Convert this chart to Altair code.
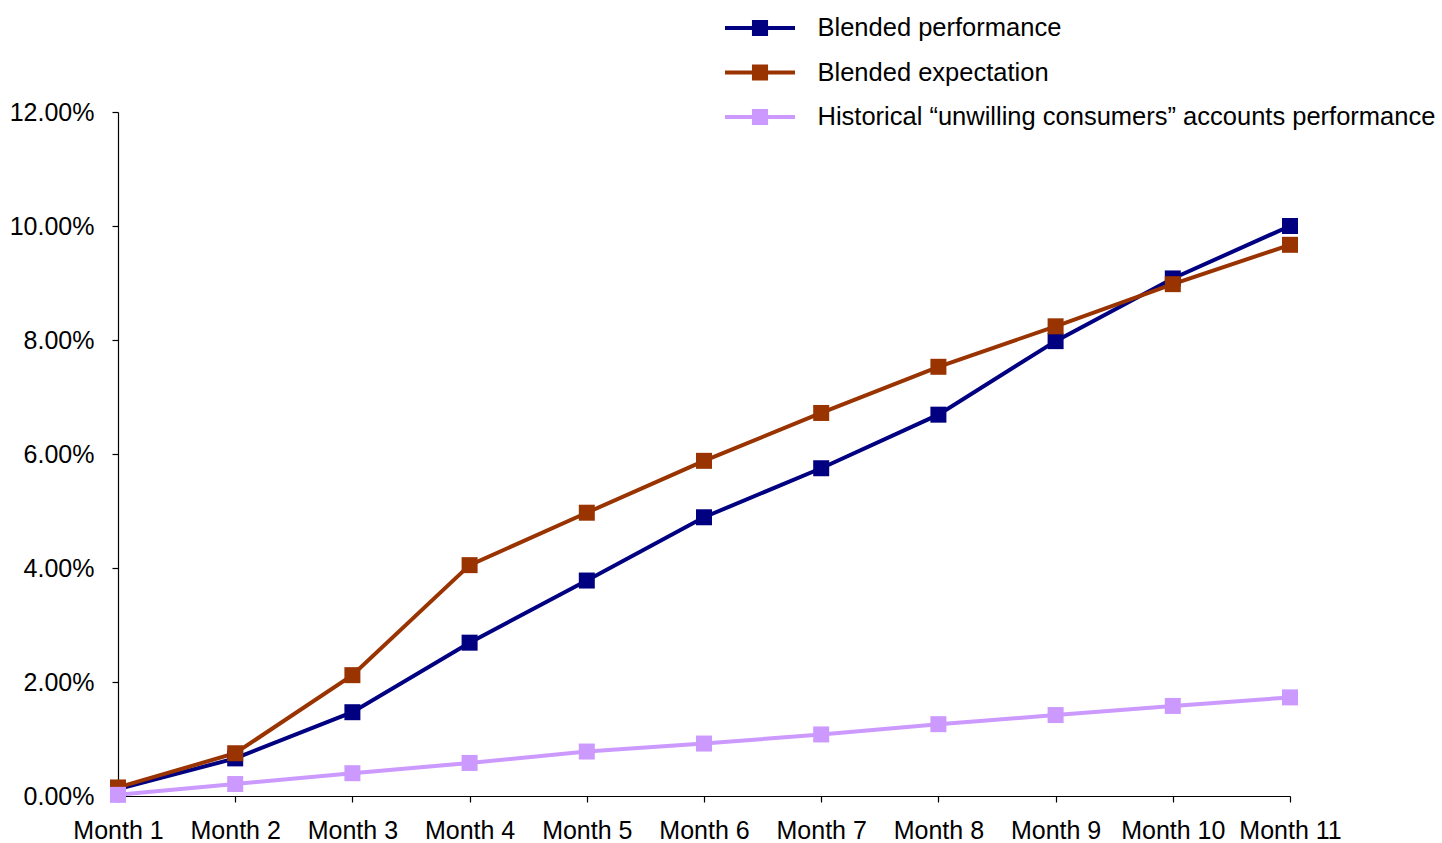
import altair as alt
import pandas as pd

# Cumulative performance by month (fractions, shown as percentages)
months = ["Month 1", "Month 2", "Month 3", "Month 4", "Month 5", "Month 6",
          "Month 7", "Month 8", "Month 9", "Month 10", "Month 11"]

blended_performance = [0.0012, 0.0066, 0.0147, 0.0269, 0.0378, 0.0489,
                       0.0575, 0.0669, 0.0798, 0.0908, 0.1000]
blended_expectation = [0.0015, 0.0075, 0.0212, 0.0405, 0.0497, 0.0588,
                       0.0672, 0.0753, 0.0824, 0.0898, 0.0967]
historical_unwilling = [0.0002, 0.0021, 0.0040, 0.0058, 0.0078, 0.0092,
                        0.0108, 0.0126, 0.0142, 0.0158, 0.0173]

series_names = [
    "Blended performance",
    "Blended expectation",
    "Historical \u201cunwilling consumers\u201d accounts performance",
]
series_colors = ["#000080", "#993300", "#cc99ff"]

rows = []
for name, values in zip(series_names,
                        [blended_performance, blended_expectation, historical_unwilling]):
    for m, v in zip(months, values):
        rows.append({"month": m, "value": v, "series": name})
df = pd.DataFrame(rows)

# Legend glyph: a short line with a square marker in the middle
legend_glyph = ("M-2,-0.11L2,-0.11L2,0.11L-2,0.11Z "
                "M-0.46,-0.46L0.46,-0.46L0.46,0.46L-0.46,0.46Z")

x_enc = alt.X("month:N", sort=months, title=None,
              scale=alt.Scale(type="point", padding=0),
              axis=alt.Axis(labelAngle=0, labelOverlap=False, labelFontSize=25,
                            labelPadding=16, tickSize=6, grid=False))
y_enc = alt.Y("value:Q", title=None,
              scale=alt.Scale(domain=[0, 0.12], nice=False),
              axis=alt.Axis(format=".2%", values=[0, 0.02, 0.04, 0.06, 0.08, 0.10, 0.12],
                            labelFontSize=25, labelPadding=18, tickSize=6, grid=False))
color_enc = alt.Color(
    "series:N",
    scale=alt.Scale(domain=series_names, range=series_colors),
    legend=alt.Legend(title=None, orient="none",
                      legendX=624.5, legendY=-101.5,
                      symbolType=legend_glyph, symbolSize=1225,
                      symbolStrokeWidth=0, symbolOpacity=1,
                      labelFontSize=25.5, labelOffset=40,
                      labelLimit=800, rowPadding=13.5,
                      padding=0, labelColor="black"),
)

lines = alt.Chart(df).mark_line(strokeWidth=4).encode(
    x=x_enc, y=y_enc, color=color_enc,
)

squares = alt.Chart(df).mark_square(size=256, filled=True, opacity=1).encode(
    x=x_enc, y=y_enc, color=color_enc,
)

chart = alt.layer(lines, squares).properties(
    width=1172, height=684,
    autosize=alt.AutoSizeParams(type="none"),
    padding={"left": 118, "top": 112, "right": 152, "bottom": 47},
    background="white",
).configure_view(stroke=None).configure_axis(
    domainColor="black", tickColor="black", labelColor="black",
    labelFont="Liberation Sans", domainWidth=1.2, tickWidth=1.2,
).configure_legend(labelFont="Liberation Sans")

chart.save("out.html", embed_options={"renderer": "svg", "actions": False})
